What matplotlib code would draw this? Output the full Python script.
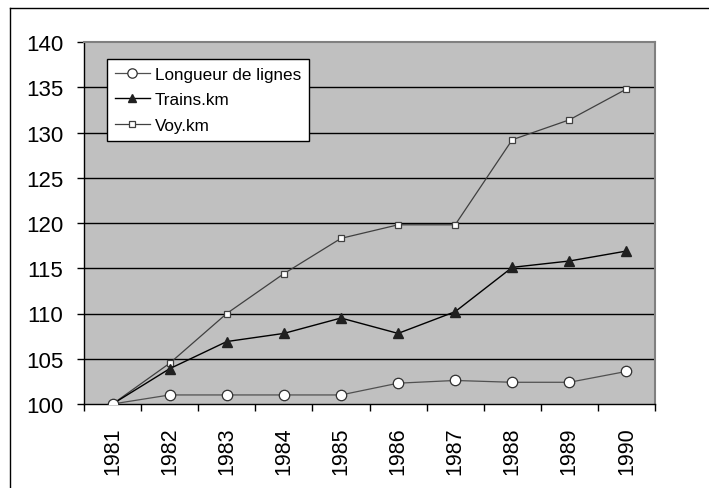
import matplotlib
matplotlib.use("Agg")
import matplotlib.pyplot as plt
from matplotlib.lines import Line2D
import numpy as np

years = ["1981", "1982", "1983", "1984", "1985", "1986", "1987", "1988", "1989", "1990"]
longueur = [100, 101, 101, 101, 101, 102.3, 102.6, 102.4, 102.4, 103.6]
trains = [100, 103.9, 106.9, 107.8, 109.5, 107.8, 110.2, 115.1, 115.8, 116.9]
voy = [100, 104.5, 110.0, 114.4, 118.3, 119.8, 119.8, 129.2, 131.4, 134.8]
yticks = [100, 105, 110, 115, 120, 125, 130, 135, 140]

plt.rcParams['font.family'] = ['Liberation Sans', 'DejaVu Sans']

W, H = 709, 489
fig = plt.figure(figsize=(W/100, H/100), dpi=100)
fig.patch.set_facecolor('white')

# outer frame (only left/top visible in reference)
fig.add_artist(Line2D([10/W, 10/W], [0, 1 - 9/H], color='black', lw=1, transform=fig.transFigure))
fig.add_artist(Line2D([10/W, 1], [1 - 9/H, 1 - 9/H], color='black', lw=1, transform=fig.transFigure))

left, right, top, bottom = 84, 655, 43, 405
ax = fig.add_axes([left/W, 1 - bottom/H, (right-left)/W, (bottom-top)/H])
ax.set_facecolor('#C0C0C0')

x = np.arange(len(years))
ax.set_xlim(-0.5, len(years) - 0.5)
ax.set_ylim(100, 140)

for yv in yticks[1:-1]:
    ax.axhline(yv, color='black', lw=1, zorder=1)

ax.plot(x, voy, color='#404040', lw=0.9, marker='s', ms=5, mfc='white', mec='#404040', mew=0.9, zorder=3, label='Voy.km')
ax.plot(x, trains, color='black', lw=1.0, marker='^', ms=6.5, mfc='#202020', mec='#202020', zorder=4, label='Trains.km')
ax.plot(x, longueur, color='#505050', lw=0.9, marker='o', ms=7.5, mfc='white', mec='#303030', mew=0.9, zorder=5, label='Longueur de lignes')

for s in ['top', 'right']:
    ax.spines[s].set_color('#808080')
    ax.spines[s].set_linewidth(1.5)
for s in ['left', 'bottom']:
    ax.spines[s].set_color('black')
    ax.spines[s].set_linewidth(1)

ax.set_yticks(yticks)
ax.set_yticklabels([str(v) for v in yticks], fontsize=16)
ax.tick_params(axis='y', direction='out', length=5, width=1, color='black', pad=10)

ax.set_xticks(x)
ax.set_xticklabels(years, rotation=90, fontsize=15.5)
ax.tick_params(axis='x', which='major', length=0, pad=16)
ax.set_xticks(np.arange(len(years) + 1) - 0.5, minor=True)
ax.tick_params(axis='x', which='minor', direction='out', length=5, width=1, color='black')

handles, labels = ax.get_legend_handles_labels()
order = [2, 1, 0]
leg = ax.legend([handles[i] for i in order], [labels[i] for i in order],
                loc='upper left', bbox_to_anchor=((107-left)/(right-left), 1 - (60-top)/(bottom-top)),
                fontsize=12.3, frameon=True, fancybox=False, framealpha=1,
                edgecolor='black', handlelength=2.05, handletextpad=0.3,
                borderpad=0.45, labelspacing=0.62, borderaxespad=0, markerscale=0.9)
leg.get_frame().set_linewidth(1)

fig.savefig('out.png', dpi=100, facecolor='white')
